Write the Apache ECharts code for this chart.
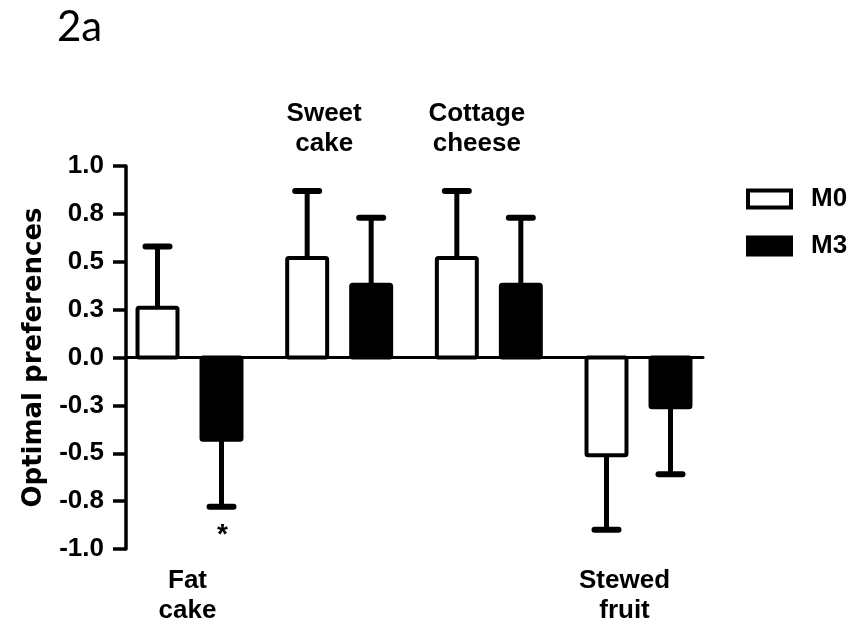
<!DOCTYPE html>
<html><head><meta charset="utf-8">
<script src="https://cdn.jsdelivr.net/npm/echarts@6.0.0/dist/echarts.min.js"></script>
<style>html,body{margin:0;padding:0;background:#fff}#c{width:849px;height:625px}</style>
</head><body><div id="c"></div>
<script>
// ---- data ----
const categories = ['Fat\ncake', 'Sweet\ncake', 'Cottage\ncheese', 'Stewed\nfruit'];
const m0Values = [0.26, 0.52, 0.52, -0.51];
const m0Errors = [0.32, 0.35, 0.35, 0.39];
const m3Values = [-0.43, 0.38, 0.38, -0.26];
const m3Errors = [0.35, 0.35, 0.35, 0.35];
const m3Marks = ['*', '', '', ''];
const yTickLabels = ['-1.0', '-0.8', '-0.5', '-0.3', '0.0', '0.3', '0.5', '0.8', '1.0'];
const seriesNames = ['M0', 'M3'];

// ---- layout/style constants ----
const BAR_W = 0.267;       // bar width in category units
const GROUP_OFF = 0.2138;  // offset of each bar from category centre
const LABEL_DX = [-2, -15, -12, -14];
const LABEL_Y_ABOVE = 1.193, LABEL_Y_BELOW = -1.245;
const BOLD = 'Liberation Sans';

function makeBarRenderer(offset, filled, marks) {
  return function (params, api) {
    const i = api.value(0), v = api.value(1), e = api.value(2);
    const cx = i + offset;
    const w = api.size([BAR_W, 0])[0];
    const p0 = api.coord([cx, 0]);
    const p1 = api.coord([cx, v]);
    const sign = v >= 0 ? 1 : -1;
    const pe = api.coord([cx, v + sign * e]);
    const children = [
      { type: 'line', shape: { x1: p1[0], y1: p1[1], x2: pe[0], y2: pe[1] },
        style: { stroke: '#000', lineWidth: 5 } },
      { type: 'line', shape: { x1: pe[0] - 12, y1: pe[1], x2: pe[0] + 12, y2: pe[1] },
        style: { stroke: '#000', lineWidth: 6, lineCap: 'round' } },
      { type: 'rect', shape: { x: p0[0] - w / 2, y: Math.min(p0[1], p1[1]), width: w, height: Math.abs(p1[1] - p0[1]), r: 1.5 },
        style: { fill: filled ? '#000' : '#fff', stroke: '#000', lineWidth: 4, lineJoin: 'round' } }
    ];
    if (marks && marks[i]) {
      children.push({ type: 'text', style: { text: marks[i], x: pe[0] + 1, y: sign < 0 ? pe[1] + 14 : pe[1] - 14,
        align: 'center', verticalAlign: sign < 0 ? 'top' : 'bottom', fill: '#000',
        font: 'bold 28px "' + BOLD + '"' } });
    }
    return { type: 'group', children: children };
  };
}

function labelRenderer(params, api) {
  const i = api.value(0);
  const above = m0Values[i] > 0 && m3Values[i] > 0;
  const p = api.coord([i, above ? LABEL_Y_ABOVE : LABEL_Y_BELOW]);
  return { type: 'text', style: { text: categories[i], x: p[0] + LABEL_DX[i], y: p[1],
    align: 'center', verticalAlign: 'middle', lineHeight: 30, fill: '#000',
    font: 'bold 26px "' + BOLD + '"' } };
}

const chart = echarts.init(document.getElementById('c'), null, { renderer: 'canvas' });
chart.setOption({
  animation: false,
  backgroundColor: '#fff',
  graphic: [{ type: 'text', style: { text: '2a', x: 57, y: 27, verticalAlign: 'middle', fill: '#000', font: '42px Lato' } }],
  grid: { left: 126, right: 146, top: 166, bottom: 76 },
  legend: {
    orient: 'vertical', left: 741, top: 181, itemWidth: 43, itemHeight: 17, itemGap: 21,
    icon: 'rect', selectedMode: false,
    textStyle: { fontFamily: BOLD, fontWeight: 'bold', fontSize: 26, color: '#000', padding: [0, 0, 0, 15], lineHeight: 17 },
    data: [
      { name: seriesNames[0], itemStyle: { color: '#fff', borderColor: '#000', borderWidth: 4 } },
      { name: seriesNames[1], itemStyle: { color: '#000', borderColor: '#000', borderWidth: 4 } }
    ]
  },
  xAxis: {
    type: 'value', min: -0.4243, max: 3.431,
    axisLine: { show: true, onZero: true, lineStyle: { color: '#000', width: 3 } },
    axisTick: { show: false }, axisLabel: { show: false }, splitLine: { show: false }
  },
  yAxis: {
    type: 'value', min: -1, max: 1, interval: 0.25,
    axisLine: { show: true, onZero: false, lineStyle: { color: '#000', width: 3.5 } },
    axisTick: { show: true, length: 13, lineStyle: { color: '#000', width: 3.5 } },
    splitLine: { show: false },
    axisLabel: { margin: 22, color: '#000', fontFamily: BOLD, fontWeight: 'bold', fontSize: 26,
      formatter: v => yTickLabels[Math.round((v + 1) / 0.25)] },
    name: 'Optimal preferences', nameLocation: 'middle', nameGap: 79,
    nameTextStyle: { fontFamily: 'DejaVu Sans', fontWeight: 'bold', fontSize: 26, color: '#000' }
  },
  series: [
    { name: seriesNames[0], type: 'custom', renderItem: makeBarRenderer(-GROUP_OFF, false, null),
      itemStyle: { color: '#fff', borderColor: '#000' },
      data: m0Values.map((v, i) => [i, v, m0Errors[i]]) },
    { name: seriesNames[1], type: 'custom', renderItem: makeBarRenderer(GROUP_OFF, true, m3Marks),
      itemStyle: { color: '#000' },
      data: m3Values.map((v, i) => [i, v, m3Errors[i]]) },
    { name: 'labels', type: 'custom', renderItem: labelRenderer, silent: true,
      data: categories.map((c, i) => [i]) }
  ]
});
</script></body></html>
